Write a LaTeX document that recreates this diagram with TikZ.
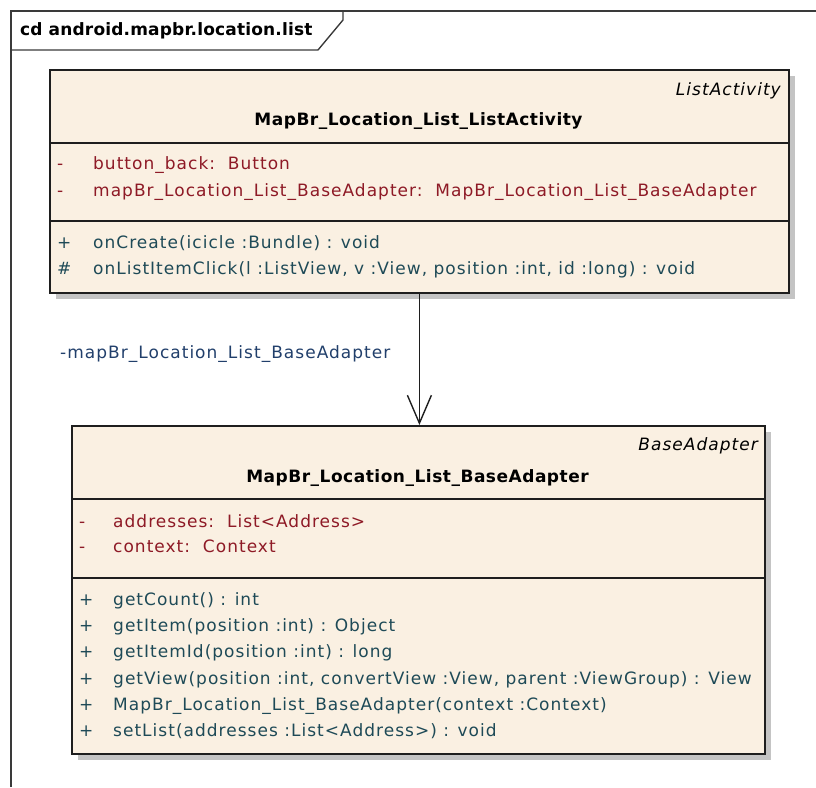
\documentclass[tikz,border=0pt]{standalone}
\usepackage{fontspec}
\setmainfont{DejaVu Sans}
\newfontfamily\regfont{DejaVu Sans}[LetterSpace=6]
\newfontfamily\headfont{DejaVu Sans}[LetterSpace=3]
\newfontfamily\titlefont{DejaVu Sans}[LetterSpace=1]
\usetikzlibrary{arrows.meta,shadows}
\definecolor{classfill}{HTML}{FAF0E2}
\definecolor{boxline}{HTML}{1E1E1E}
\definecolor{framegray}{HTML}{3A3A3A}
\definecolor{attrred}{HTML}{8E1A26}
\definecolor{opteal}{HTML}{1E4A57}
\definecolor{rolenavy}{HTML}{213F6B}
\definecolor{shadowgray}{HTML}{C4C4C4}
\begin{document}
\begin{tikzpicture}[x=1pt,y=-1pt,
  classbox/.style={draw=boxline, line width=1.8pt, fill=classfill, anchor=north west,
    inner sep=0pt, drop shadow={shadow xshift=6pt, shadow yshift=-6pt, fill=shadowgray, opacity=1}},
  sepline/.style={draw=boxline, line width=1.5pt},
  txt/.style={anchor=base west, inner sep=0pt, font=\regfont\fontsize{17}{20}\selectfont},
  attr/.style={txt, text=attrred},
  oper/.style={txt, text=opteal},
  stereo/.style={anchor=base east, inner sep=0pt, font=\regfont\fontsize{17}{20}\selectfont\itshape},
  cname/.style={anchor=base, inner sep=0pt, font=\headfont\fontsize{17}{20}\selectfont\bfseries},
]
\useasboundingbox (0,0) rectangle (816,787);

% diagram frame with its name tab
\draw[framegray, line width=1.6pt] (11,787) -- (11,11) -- (816,11);
\draw[framegray, line width=1.4pt] (11,50) -- (318,50) -- (343,20) -- (343,11);
\node[anchor=base west, inner sep=0pt, font=\titlefont\fontsize{17}{20}\selectfont\bfseries] (frametitle) at (20,35) {cd android.mapbr.location.list};

% class MapBr_Location_List_ListActivity
\node[classbox, minimum width=739pt, minimum height=223pt] (cls1) at (49,69) {};
\draw[sepline] (49,143) -- (788,143);
\draw[sepline] (49,221) -- (788,221);
\node[stereo] (st1) at (781,95) {ListActivity};
\node[cname] (nm1) at (418.5,125) {MapBr\_Location\_List\_ListActivity};
\node[attr] (a1m) at (57,169) {-};
\node[attr] (a1) at (93,169) {button\_back:\ \ Button};
\node[attr] (a2m) at (57,196) {-};
\node[attr] (a2) at (93,196) {mapBr\_Location\_List\_BaseAdapter:\ \ MapBr\_Location\_List\_BaseAdapter};
\node[oper] (o1m) at (57,248) {+};
\node[oper] (o1) at (93,248) {onCreate(icicle :Bundle) : void};
\node[oper] (o2m) at (57,274) {\#};
\node[oper] (o2) at (93,274) {onListItemClick(l :ListView, v :View, position :int, id :long) : void};

% class MapBr_Location_List_BaseAdapter
\node[classbox, minimum width=693pt, minimum height=328pt] (cls2) at (71,425) {};
\draw[sepline] (71,499) -- (764,499);
\draw[sepline] (71,578) -- (764,578);
\node[stereo] (st2) at (758,450) {BaseAdapter};
\node[cname] (nm2) at (417.5,482) {MapBr\_Location\_List\_BaseAdapter};
\node[attr] (b1m) at (79,527) {-};
\node[attr] (b1) at (113,527) {addresses:\ \ List<Address>};
\node[attr] (b2m) at (79,552) {-};
\node[attr] (b2) at (113,552) {context:\ \ Context};
\node[oper] (p1m) at (79,605) {+};
\node[oper] (p1) at (113,605) {getCount() : int};
\node[oper] (p2m) at (79,631) {+};
\node[oper] (p2) at (113,631) {getItem(position :int) : Object};
\node[oper] (p3m) at (79,657) {+};
\node[oper] (p3) at (113,657) {getItemId(position :int) : long};
\node[oper] (p4m) at (79,684) {+};
\node[oper] (p4) at (113,684) {getView(position :int, convertView :View, parent :ViewGroup) : View};
\node[oper] (p5m) at (79,710) {+};
\node[oper] (p5) at (113,710) {MapBr\_Location\_List\_BaseAdapter(context :Context)};
\node[oper] (p6m) at (79,736) {+};
\node[oper] (p6) at (113,736) {setList(addresses :List<Address>) : void};

% directed association
\draw[boxline, line width=1.4pt, -{Straight Barb[length=28pt, width=24pt, line width=1.4pt]}]
  (cls1.south) -- (cls1.south |- cls2.north);
\node[txt, text=rolenavy] (role) at (60,358) {-mapBr\_Location\_List\_BaseAdapter};
\end{tikzpicture}
\end{document}
